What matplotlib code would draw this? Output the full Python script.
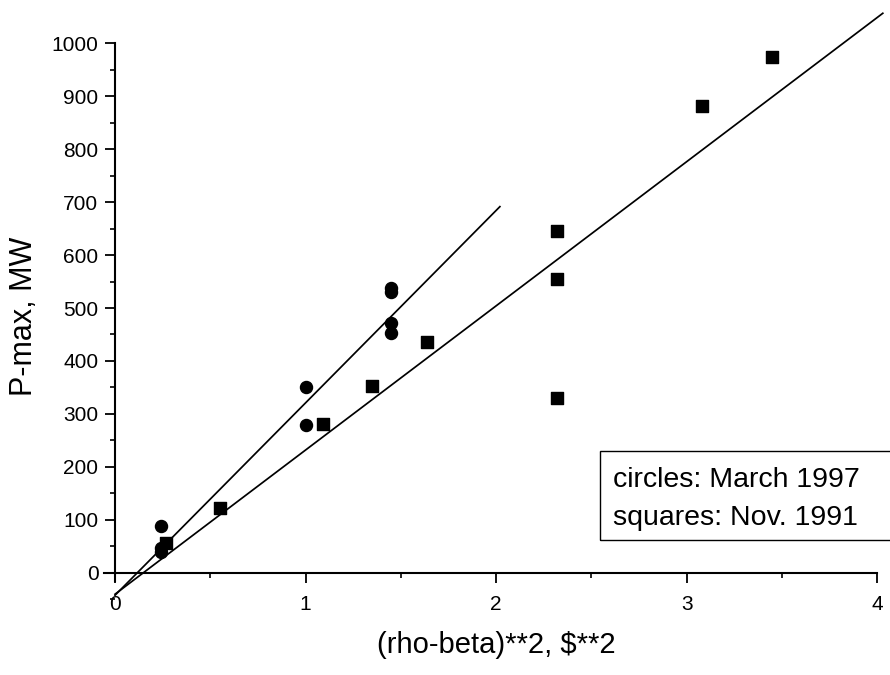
import numpy as np
import matplotlib
matplotlib.use("Agg")
import matplotlib.pyplot as plt
from matplotlib.patches import Rectangle
from matplotlib.ticker import MultipleLocator

plt.rcParams['font.family'] = ['Liberation Sans', 'DejaVu Sans']

# data
circles_x = [0.24, 0.24, 0.24, 1.0, 1.0, 1.45, 1.45, 1.45, 1.45]
circles_y = [88, 47, 40, 350, 280, 537, 531, 471, 452]

squares_x = [0.27, 0.55, 1.09, 1.35, 1.64, 2.32, 2.32, 2.32, 3.08, 3.45]
squares_y = [57, 122, 281, 352, 436, 645, 555, 330, 882, 973]

# straight-line fits (slope, intercept, x range)
fit_circles = (363, -42, [0.0, 2.02])
fit_squares = (272, -40, [0.0, 4.03])

legend_lines = ["circles: March 1997", "squares: Nov. 1991"]

fig = plt.figure(figsize=(8.9, 6.75), dpi=100)
ax = fig.add_axes([0.1143, 0.1119, 0.8819, 0.8322])

ax.scatter(circles_x, circles_y, marker='o', s=75, color='black', zorder=3)
ax.scatter(squares_x, squares_y, marker='s', s=70, color='black', zorder=3)

for slope, icpt, xr in (fit_circles, fit_squares):
    xs = np.array(xr)
    ax.plot(xs, slope * xs + icpt, color='black', lw=1.25, clip_on=False)

ax.set_xlim(-0.07, 4.05)
ax.set_ylim(-50, 1010)

# Origin-style axes crossing at the origin
ax.spines['left'].set_position(('data', 0))
ax.spines['bottom'].set_position(('data', 0))
ax.spines['right'].set_visible(False)
ax.spines['top'].set_visible(False)
ax.spines['left'].set_bounds(-15, 1000)
ax.spines['bottom'].set_bounds(-0.06, 4)
for sp in ('left', 'bottom'):
    ax.spines[sp].set_linewidth(1.5)

ax.xaxis.set_major_locator(MultipleLocator(1))
ax.xaxis.set_minor_locator(MultipleLocator(0.5))
ax.yaxis.set_major_locator(MultipleLocator(100))
ax.yaxis.set_minor_locator(MultipleLocator(50))
ax.tick_params(which='major', direction='out', length=7, width=1.3, labelsize=15)
ax.tick_params(which='minor', direction='out', length=3.6, width=1.2)
ax.tick_params(axis='y', pad=5)
ax.tick_params(axis='x', pad=9)

fig.text(496 / 890, 1 - 645 / 675, "(rho-beta)**2, $**2", fontsize=21,
         ha='center', va='center')
fig.text(24.5 / 890, 1 - 316 / 675, "P-max, MW", fontsize=22,
         ha='center', va='center', rotation=90)

# note box, runs off the right edge like the scan
fig.patches.append(Rectangle((600 / 890, 1 - 540 / 675), 0.4, 89 / 675,
                             transform=fig.transFigure, fill=False,
                             edgecolor='black', lw=1.0))
fig.text(613 / 890, 1 - 480 / 675, legend_lines[0], fontsize=20.5, va='center')
fig.text(613 / 890, 1 - 518 / 675, legend_lines[1], fontsize=20.5, va='center')

fig.savefig("out.png", dpi=100)
